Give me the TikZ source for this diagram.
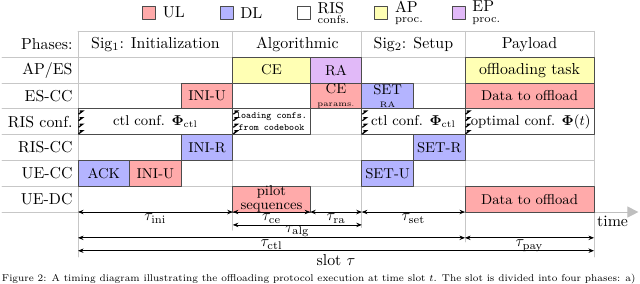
\documentclass[tikz,border=0pt]{standalone}
\usepackage{amsfonts,amsmath,amssymb}
\usepackage{tikz}
\usetikzlibrary{arrows.meta,positioning,fit,calc}
\tikzset{
  every picture/.style={line join=round, line cap=round, >=Stealth},
  grid/.style={draw=black!22, line width=0.6pt},
  blk/.style={draw=black!70, line width=0.6pt, inner sep=0pt},
  blktxt/.style={font=\small, align=center, inner sep=0pt},
  rowlbl/.style={anchor=east, inner sep=0pt},
  legsq/.style={draw=black!70, line width=0.6pt, minimum size=8.2pt, inner sep=0pt},
  legtxt/.style={align=left, inner sep=0pt},
  hatch/.style={line width=0.8pt, line cap=butt, line join=miter},
  dim/.style={{Stealth[length=3.5pt,width=2.8pt]}-{Stealth[length=3.5pt,width=2.8pt]}, line width=0.5pt},
  dimlbl/.style={midway, below, inner sep=1pt},
}
\usepackage{color}
\usepackage{xcolor}
\definecolor{ULcol}{RGB}{255,170,170}
\definecolor{DLcol}{RGB}{180,180,255}
\definecolor{APcol}{RGB}{255,255,180}
\definecolor{EPcol}{RGB}{225,185,248}
% [label style]{name}{from}{to}{row}{fill}{text}
\newcommand{\slotblk}[7][]{%
  \node[blk, fill=#6, fit={(#3,#5) (#4,#5+0.5)}, label={[blktxt,#1]center:#7}] (#2) {};}

\begin{document}
\begin{tikzpicture}[x=1.143cm,y=1.143cm]
\useasboundingbox (-1.512,-1.376) rectangle (10.891,4.109);
% legend
\foreach \c/\t [count=\i from 0] in {ULcol/UL,DLcol/DL,white/{RIS\\[-5.5pt]{\scriptsize confs.}},APcol/{AP\\[-5.5pt]{\scriptsize proc.}},EPcol/{EP\\[-5.5pt]{\scriptsize proc.}}}{
  \node[legsq, fill=\c] (sq\i) at ({1.38+1.5*\i},3.864) {};
  \node[legtxt, right=4pt of sq\i] (lg\i) {\t};
}
% grid
\foreach \y in {0,0.5,...,3}
  \draw[grid] (-1.47,\y) -- (10,\y);
\draw[grid] (0,3.5) -- (10,3.5);
\foreach \x/\e in {0/-0.87,3/-0.35,5.5/-0.3,7.5/-0.58,10/-0.87}
  \draw[grid] (\x,3.5) -- (\x,\e);
\coordinate (tend) at (10.86,0);
\draw[draw=black!25, line width=0.6pt, -{Triangle[length=7pt,width=7pt]}] (10,0) -- (tend);
\node (tm) at (10.36,-0.18) {time};
% phases and rows
\node[rowlbl] (lPh) at (-0.1,3.25) {Phases:};
\node (ph1) at (1.5,3.25) {Sig$_1$: Initialization};
\node (ph2) at (4.25,3.25) {Algorithmic};
\node (ph3) at (6.5,3.25) {Sig$_2$: Setup};
\node (ph4) at (8.75,3.25) {Payload};
\node[rowlbl] (lAP) at (-0.1,2.75) {AP/ES};
\node[rowlbl] (lES) at (-0.1,2.25) {ES-CC};
\node[rowlbl] (lRC) at (-0.1,1.75) {RIS conf.};
\node[rowlbl] (lRR) at (-0.1,1.25) {RIS-CC};
\node[rowlbl] (lUC) at (-0.1,0.75) {UE-CC};
\node[rowlbl] (lUD) at (-0.1,0.25) {UE-DC};
% blocks
\slotblk{ce}{3}{4.5}{2.5}{APcol}{CE}
\slotblk{ra}{4.5}{5.5}{2.5}{EPcol}{RA}
\slotblk[font=\normalsize]{task}{7.5}{10}{2.5}{APcol}{offloading task}
\slotblk{iniu}{2}{3}{2}{ULcol}{INI-U}
\slotblk{cep}{4.5}{5.5}{2}{ULcol}{CE\\[-3pt]{\tiny params.}}
\slotblk{setra}{5.5}{6.5}{2}{DLcol}{SET\\[-3pt]{\tiny RA}}
\slotblk{dataes}{7.5}{10}{2}{ULcol}{Data to offload}
\slotblk{conf1}{0}{3}{1.5}{white}{ctl conf. $\boldsymbol{\Phi}_{\mathrm{ctl}}$}
\slotblk[font=\fontsize{6}{6.5}\selectfont\ttfamily]{load}{3}{4.5}{1.5}{white}{loading confs.\\[1pt]from codebook}
\slotblk{conf2}{5.5}{7.5}{1.5}{white}{ctl conf. $\boldsymbol{\Phi}_{\mathrm{ctl}}$}
\slotblk{conf3}{7.5}{10}{1.5}{white}{\,optimal conf. $\boldsymbol{\Phi}(t)$}
\slotblk{inir}{2}{3}{1}{DLcol}{INI-R}
\slotblk{setr}{6.5}{7.5}{1}{DLcol}{SET-R}
\slotblk{ack}{0}{1}{0.5}{DLcol}{ACK}
\slotblk{iniu2}{1}{2}{0.5}{ULcol}{INI-U}
\slotblk{setu}{5.5}{6.5}{0.5}{DLcol}{SET-U}
\slotblk{pilot}{3}{4.5}{0}{ULcol}{pilot\\[-2pt]sequences}
\slotblk{datadc}{7.5}{10}{0}{ULcol}{Data to offload}
% reconfiguration marks
\foreach \x in {0,3,5.5,7.5}
  \foreach \k in {0,...,3}
    \draw[hatch] (\x+0.03,1.515+0.127*\k+0.06) -- ++(0.06,0) -- ++(-0.08,-0.06);
% durations
\path (0,0) coordinate (s0) (3,0) coordinate (s1) (4.5,0) coordinate (s2)
  (5.5,0) coordinate (s3) (7.5,0) coordinate (s4) (10,0) coordinate (s5);
\draw[dim] (s0) -- (s1) node[dimlbl] {$\tau_{\mathrm{ini}}$};
\draw[dim] (s1) -- (s2) node[dimlbl] {$\tau_{\mathrm{ce}}$};
\draw[dim] (s2) -- (s3) node[dimlbl] {$\tau_{\mathrm{ra}}$};
\draw[dim] (s3) -- (s4) node[dimlbl] {$\tau_{\mathrm{set}}$};
\draw[dim] ($(s1)+(0,-0.25)$) -- ($(s3)+(0,-0.25)$) node[dimlbl, inner sep=0pt] {$\tau_{\mathrm{alg}}$};
\draw[dim] ($(s0)+(0,-0.5)$) -- ($(s4)+(0,-0.5)$) node[dimlbl] {$\tau_{\mathrm{ctl}}$};
\draw[dim] ($(s4)+(0,-0.5)$) -- ($(s5)+(0,-0.5)$) node[dimlbl] {$\tau_{\mathrm{pay}}$};
\draw[dim] ($(s0)+(0,-0.75)$) -- ($(s5)+(0,-0.75)$) node[dimlbl, inner sep=2pt] {slot $\tau$};
% caption
\node[anchor=base west, inner sep=0pt, font=\fontsize{7}{8}\selectfont] (cap) at (-1.48,-1.35)
  {\scalebox{0.893}{Figure 2: A timing diagram illustrating the offloading protocol execution at time slot $t$. The slot is divided into four phases: a)}};
\end{tikzpicture}
\end{document}
